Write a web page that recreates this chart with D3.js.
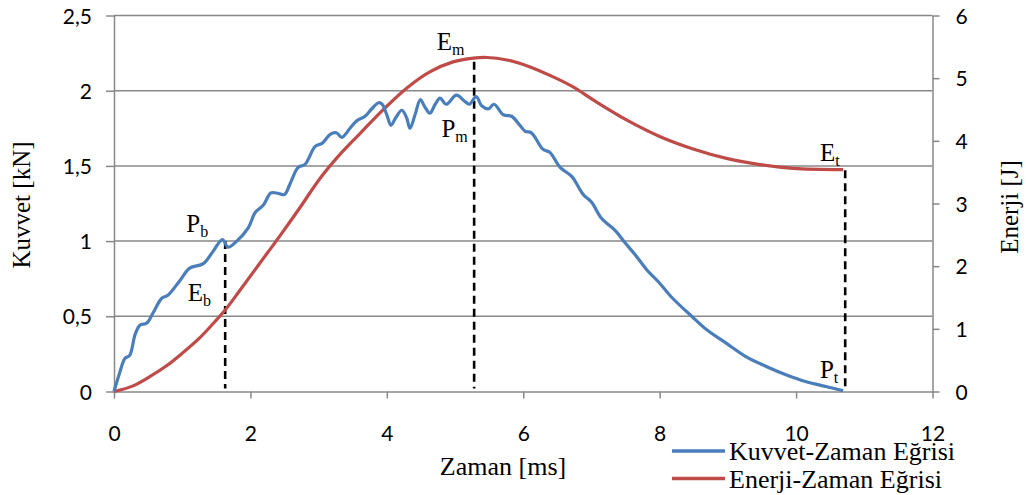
<!DOCTYPE html>
<html><head><meta charset="utf-8">
<script src="https://cdn.jsdelivr.net/npm/d3@7"></script>
<style>body{margin:0;background:#fff}svg{display:block}</style>
</head><body>
<svg id="c" width="1026" height="495"></svg>
<script>
const forceTime = [0,0.08,0.16,0.23,0.31,0.38,0.48,0.57,0.70,0.79,0.97,1.11,1.31,1.45,1.59,1.67,1.80,1.97,2.07,2.19,2.30,2.38,2.50,2.58,2.70,2.80,2.95,3.05,3.17,3.26,3.34,3.46,3.56,3.68,3.78,3.88,3.93,4.00,4.06,4.13,4.22,4.29,4.34,4.42,4.49,4.56,4.63,4.71,4.78,4.87,5.02,5.14,5.21,5.31,5.39,5.49,5.57,5.71,5.83,5.95,6.03,6.12,6.29,6.39,6.54,6.71,6.88,7.00,7.15,7.35,7.49,7.64,7.81,8.00,8.19,8.47,8.69,8.98,9.27,9.57,9.86,10.15,10.45,10.69];
const forceVal = [0,0.12,0.22,0.24,0.38,0.44,0.455,0.52,0.62,0.64,0.74,0.82,0.85,0.93,1.01,0.96,1.00,1.09,1.19,1.24,1.32,1.32,1.31,1.38,1.49,1.51,1.63,1.65,1.71,1.72,1.69,1.75,1.80,1.83,1.88,1.92,1.91,1.84,1.77,1.82,1.87,1.82,1.75,1.85,1.94,1.89,1.85,1.91,1.95,1.91,1.97,1.93,1.91,1.96,1.90,1.88,1.91,1.84,1.83,1.77,1.73,1.72,1.61,1.59,1.49,1.43,1.31,1.26,1.15,1.07,0.99,0.91,0.81,0.72,0.62,0.50,0.41,0.32,0.23,0.165,0.11,0.065,0.032,0.005];
const energyTime = [0,0.28,0.53,0.77,1.01,1.26,1.50,1.63,1.85,2.14,2.43,2.73,3.02,3.31,3.61,3.94,4.29,4.63,4.97,5.27,5.47,5.76,6.10,6.44,6.73,7.03,7.52,8.00,8.49,8.98,9.47,9.96,10.69];
const energyVal = [0,0.09,0.24,0.41,0.62,0.86,1.14,1.30,1.62,2.05,2.48,2.94,3.40,3.78,4.12,4.49,4.84,5.10,5.26,5.32,5.33,5.29,5.18,5.02,4.86,4.65,4.33,4.07,3.87,3.72,3.62,3.56,3.54];
const xTicks = [0,2,4,6,8,10,12];
const yLeftTicks = [0,0.5,1,1.5,2,2.5];
const yRightTicks = [0,1,2,3,4,5,6];
const markerTime = [1.63, 5.28, 10.72];
const markerTopForce = [1.0, null, null];
const markerTopEnergy = [null, 5.26, 3.53];
const labelMain = ["P","E","P","E","P","E"];
const labelSub = ["b","b","m","m","t","t"];
const labelT = [1.06, 1.08, 4.8, 4.73, 10.35, 10.35];
const labelF = [1.06, 0.6, 1.69, 2.27, 0.09, 1.53];
const seriesNames = ["Kuvvet-Zaman Eğrisi","Enerji-Zaman Eğrisi"];
const colors = ["#4A7EBB","#BE4B48"];

const svg = d3.select("#c");
const x = d3.scaleLinear().domain([0,12]).range([114,932.5]);
const yL = d3.scaleLinear().domain([0,2.5]).range([391.5,15.5]);
const yR = d3.scaleLinear().domain([0,6]).range([391.5,15.5]);
const grid = "#888888";
const sans = "Lato, 'Open Sans', sans-serif";
const serif = "'Liberation Serif','Times New Roman',serif";

svg.append("g").selectAll("line").data(yLeftTicks.slice(1)).join("line")
  .attr("x1",x(0)).attr("x2",x(12)).attr("y1",d=>yL(d)).attr("y2",d=>yL(d))
  .attr("stroke",grid).attr("stroke-width",1.5);

function styleAxis(g){
  g.select(".domain").attr("stroke",grid).attr("stroke-width",1.5);
  g.selectAll(".tick line").attr("stroke",grid).attr("stroke-width",1.5);
  g.selectAll(".tick text").attr("font-family",sans).attr("font-size",21).attr("fill","#000");
}
const gx = svg.append("g").attr("transform",`translate(0,${yL(0)})`)
  .call(d3.axisBottom(x).tickValues(xTicks).tickSize(7).tickSizeOuter(0).tickPadding(28).tickFormat(d=>d));
styleAxis(gx);
const gl = svg.append("g").attr("transform",`translate(${x(0)},0)`)
  .call(d3.axisLeft(yL).tickValues(yLeftTicks).tickSize(8).tickSizeOuter(0).tickPadding(14).tickFormat(d=>String(d).replace(".",",")));
styleAxis(gl);
gl.selectAll(".tick text").attr("dy","0.36em");
const gr = svg.append("g").attr("transform",`translate(${x(12)},0)`)
  .call(d3.axisRight(yR).tickValues(yRightTicks).tickSize(7).tickSizeOuter(0).tickPadding(16).tickFormat(d=>d));
styleAxis(gr);
gr.selectAll(".tick text").attr("dy","0.36em");

markerTime.forEach((t,i)=>{
  const top = markerTopForce[i]!=null ? yL(markerTopForce[i]) : yR(markerTopEnergy[i]);
  svg.append("line").attr("x1",x(t)).attr("x2",x(t)).attr("y1",top).attr("y2",yL(0)-3)
    .attr("stroke","#000").attr("stroke-width",2.6).attr("stroke-dasharray","8,5");
});

const fData = forceTime.map((t,i)=>[t,forceVal[i]]);
const eData = energyTime.map((t,i)=>[t,energyVal[i]]);
svg.append("path").datum(eData).attr("fill","none").attr("stroke",colors[1]).attr("stroke-width",3.2)
  .attr("d",d3.line().x(d=>x(d[0])).y(d=>yR(d[1])).curve(d3.curveCatmullRom.alpha(0.5)));
svg.append("path").datum(fData).attr("fill","none").attr("stroke",colors[0]).attr("stroke-width",3.2)
  .attr("d",d3.line().x(d=>x(d[0])).y(d=>yL(d[1])).curve(d3.curveCatmullRom.alpha(0.5)));

labelMain.forEach((m,i)=>{
  const t = svg.append("text").attr("x",x(labelT[i])).attr("y",yL(labelF[i]))
    .attr("font-family",serif).attr("font-size",25).attr("fill","#000");
  t.append("tspan").text(m);
  t.append("tspan").attr("font-size",16).attr("dy",5).text(labelSub[i]);
});

svg.append("text").attr("transform",`translate(30,205) rotate(-90)`).attr("text-anchor","middle")
  .attr("font-family",serif).attr("font-size",25).text("Kuvvet [kN]");
svg.append("text").attr("transform",`translate(1018,207) rotate(-90)`).attr("text-anchor","middle")
  .attr("font-family",serif).attr("font-size",25).text("Enerji [J]");
svg.append("text").attr("x",503).attr("y",475).attr("text-anchor","middle")
  .attr("font-family",serif).attr("font-size",26).text("Zaman [ms]");

seriesNames.forEach((n,i)=>{
  const yy = 451 + i*27.5;
  svg.append("line").attr("x1",672).attr("x2",725).attr("y1",yy).attr("y2",yy)
    .attr("stroke",colors[i]).attr("stroke-width",3.5);
  svg.append("text").attr("x",729).attr("y",yy+9).attr("font-family",serif).attr("font-size",26).text(n);
});
</script>
</body></html>
